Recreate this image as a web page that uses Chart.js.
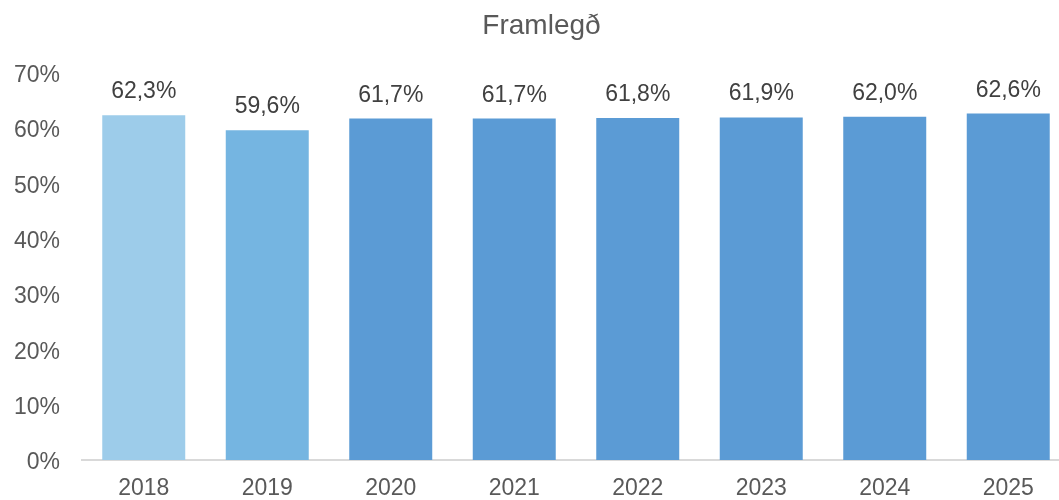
<!DOCTYPE html>
<html>
<head>
<meta charset="utf-8">
<title>Framlegð</title>
<script src="https://cdn.jsdelivr.net/npm/chart.js@4/dist/chart.umd.min.js"></script>
<style>
  html, body { margin: 0; padding: 0; background: #fff; overflow: hidden; }
  #wrap { position: relative; width: 1106px; height: 500px; }
</style>
</head>
<body>
<div id="wrap"><canvas id="chart"></canvas></div>
<script>
// Margin by year (percent)
const years = ['2018', '2019', '2020', '2021', '2022', '2023', '2024', '2025'];
const margin = [62.3, 59.6, 61.7, 61.7, 61.8, 61.9, 62.0, 62.6];
const barColors = ['#9DCCEA', '#75B5E1', '#5B9BD5', '#5B9BD5', '#5B9BD5', '#5B9BD5', '#5B9BD5', '#5B9BD5'];
const yTicks = [0, 10, 20, 30, 40, 50, 60, 70];

const FONT = '"Liberation Sans", Arial, Helvetica, sans-serif';

const fmt = v => v.toFixed(1).replace('.', ',') + '%';

// Value labels above each bar
const valueLabels = {
  id: 'valueLabels',
  afterDatasetsDraw(chart) {
    const ctx = chart.ctx;
    const meta = chart.getDatasetMeta(0);
    ctx.save();
    ctx.font = '23px ' + FONT;
    ctx.fillStyle = '#404040';
    ctx.textAlign = 'center';
    ctx.textBaseline = 'alphabetic';
    meta.data.forEach((bar, i) => {
      ctx.fillText(fmt(margin[i]), bar.x, bar.y - 17);
    });
    ctx.restore();
  }
};

new Chart(document.getElementById('chart'), {
  type: 'bar',
  data: {
    labels: years,
    datasets: [{
      data: margin,
      backgroundColor: barColors,
      borderWidth: 0,
      categoryPercentage: 1,
      barPercentage: 0.672
    }]
  },
  options: {
    responsive: true,
    maintainAspectRatio: false,
    animation: false,
    layout: { padding: { left: 13, right: 36, top: 0, bottom: 0 } },
    plugins: {
      legend: { display: false },
      tooltip: { enabled: false },
      title: {
        display: true,
        text: 'Framlegð',
        color: '#595959',
        font: { family: FONT, size: 28, weight: 'normal' },
        padding: { top: 9, bottom: 30 }
      }
    },
    scales: {
      x: {
        grid: { display: false, drawTicks: false },
        border: { display: true, color: '#D9D9D9', width: 2 },
        ticks: {
          color: '#595959',
          font: { family: FONT, size: 23 },
          padding: 15,
          maxRotation: 0
        },
        afterFit: axis => { axis.height = 40; }
      },
      y: {
        min: 0,
        max: 70,
        afterBuildTicks: axis => { axis.ticks = yTicks.map(v => ({ value: v })); },
        grid: { display: false, drawTicks: false },
        border: { display: false },
        ticks: {
          color: '#595959',
          font: { family: FONT, size: 23 },
          padding: 22,
          labelOffset: 3,
          callback: v => v + '%'
        },
        afterFit: axis => { axis.width = 69; }
      }
    }
  },
  plugins: [valueLabels]
});
</script>
</body>
</html>
